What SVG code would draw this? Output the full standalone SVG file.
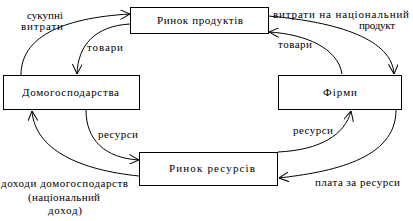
<svg xmlns="http://www.w3.org/2000/svg" width="413" height="221" viewBox="0 0 413 221">
<style>
.box{fill:#fff;stroke:#000;stroke-width:1}
.t{font-family:"Liberation Serif","Times New Roman",serif;font-size:11px;fill:#000}
.c{fill:none;stroke:#000;stroke-width:1;marker-end:url(#arr)}
</style>
<defs>
<marker id="arr" viewBox="0 0 10 10" refX="10" refY="5" markerWidth="10" markerHeight="10" markerUnits="userSpaceOnUse" orient="auto">
<path d="M0,0 L10,5 L0,10" fill="none" stroke="#000" stroke-width="1"/>
</marker>
</defs>
<rect width="413" height="221" fill="#fff"/>
<g id="connectors">
<path class="c" d="M21,75 C21,38 60,18 130,14"/>
<path class="c" d="M130,24 C95,26 78,45 77,74"/>
<path class="c" d="M268,16 C340,22 392,40 394,74"/>
<path class="c" d="M342,74 C338,48 305,34 269,32"/>
<path class="c" d="M86,110 C86,140 105,158 139,160"/>
<path class="c" d="M139,176 C80,170 35,150 32,111"/>
<path class="c" d="M278,152 C320,150 345,135 351,111"/>
<path class="c" d="M396,110 C396,160 330,172 279,178"/>
</g>
<g id="n-products">
<rect class="box" x="130.5" y="7.5" width="138" height="26"/>
<text class="t" x="157" y="24" textLength="86" lengthAdjust="spacing">Ринок продуктів</text>
</g>
<g id="n-households">
<rect class="box" x="3.5" y="75.5" width="136" height="34"/>
<text class="t" x="22" y="96" textLength="97" lengthAdjust="spacing">Домогосподарства</text>
</g>
<g id="n-firms">
<rect class="box" x="278.5" y="75.5" width="123" height="34"/>
<text class="t" x="323" y="96" textLength="34" lengthAdjust="spacing">Фірми</text>
</g>
<g id="n-resources">
<rect class="box" x="139.5" y="152.5" width="138" height="33"/>
<text class="t" x="169" y="172" textLength="86" lengthAdjust="spacing">Ринок ресурсів</text>
</g>
<g id="labels">
<text class="t" x="27" y="19" textLength="36" lengthAdjust="spacing">сукупні</text>
<text class="t" x="21" y="30" textLength="42" lengthAdjust="spacing">витрати</text>
<text class="t" x="87" y="51" textLength="36" lengthAdjust="spacing">товари</text>
<text class="t" x="273" y="18" textLength="136" lengthAdjust="spacing">витрати на національний</text>
<text class="t" x="359" y="29" textLength="36" lengthAdjust="spacing">продукт</text>
<text class="t" x="278" y="48" textLength="34" lengthAdjust="spacing">товари</text>
<text class="t" x="98" y="138" textLength="40" lengthAdjust="spacing">ресурси</text>
<text class="t" x="293" y="134" textLength="40" lengthAdjust="spacing">ресурси</text>
<text class="t" x="315" y="186" textLength="85" lengthAdjust="spacing">плата за ресурси</text>
<text class="t" x="1" y="187" textLength="127" lengthAdjust="spacing">доходи домогосподарств</text>
<text class="t" x="28" y="201" textLength="72" lengthAdjust="spacing">(національний</text>
<text class="t" x="48" y="214" textLength="34" lengthAdjust="spacing">доход)</text>
</g>
</svg>
